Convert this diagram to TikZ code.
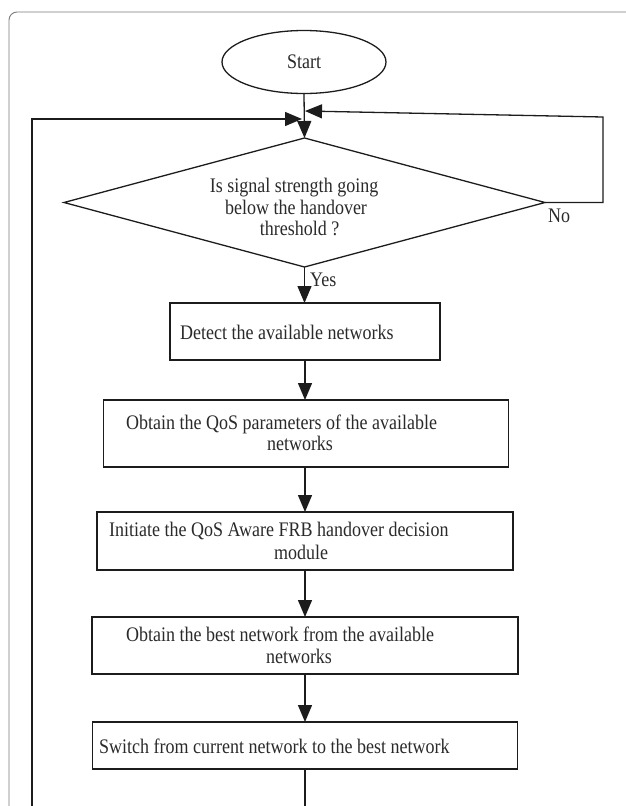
\documentclass[tikz,border=0pt]{standalone}
\usepackage{fontspec}
\setmainfont{Liberation Serif}
\usetikzlibrary{arrows.meta,shapes.geometric}
\definecolor{ink}{HTML}{1C1C1C}
\definecolor{txt}{HTML}{2A2A2A}
\definecolor{frame}{HTML}{7A7A7A}
% slightly condensed lettering: stretch glyphs vertically
\newcommand{\tallt}[1]{\scalebox{1}[1.15]{#1}}
\begin{document}
\begin{tikzpicture}[x=1pt,y=-1pt,
  line/.style={draw=ink,line width=1.3pt},
  arr/.style={line,-{Triangle[length=17pt,width=14pt]}},
  stepbox/.style={draw=ink,line width=1.3pt,rectangle,inner sep=0pt,outer sep=0pt},
  lbl/.style={inner sep=0pt,text=txt,font=\fontsize{18}{21.5}\selectfont},
]
\clip (0,0) rectangle (626,806);
% outer frame
\draw[frame,line width=0.9pt,rounded corners=8pt] (9,12) rectangle (660,840);

% start and decision
\node[line,ellipse,minimum width=164pt,minimum height=63pt,inner sep=0pt,outer sep=0pt,
      text=txt,font=\fontsize{18}{21.5}\selectfont] (start) at (304,62) {\tallt{Start}};
\node[line,diamond,minimum width=481pt,minimum height=129pt,inner sep=0pt,outer sep=0pt] (dec) at (304.5,202.5) {};
\node[lbl,anchor=base] (q1) at (294,192) {\tallt{Is signal strength going}};
\node[lbl,anchor=base] (q2) at (296,214) {\tallt{below the handover}};
\node[lbl,anchor=base] (q3) at (299.5,235) {\tallt{threshold ?}};

% process boxes
\node[stepbox,minimum width=270pt,minimum height=57pt] (b1) at (305,331.5) {};
\node[stepbox,minimum width=405pt,minimum height=67pt] (b2) at (306,433.5) {};
\node[stepbox,minimum width=416pt,minimum height=58pt] (b3) at (305,541) {};
\node[stepbox,minimum width=426pt,minimum height=57pt] (b4) at (305,645.5) {};
\node[stepbox,minimum width=425pt,minimum height=47pt] (b5) at (305,745.5) {};

\node[lbl,anchor=base west] (t1) at (180,339) {\tallt{Detect the available networks}};
\node[lbl,anchor=base west] (t2a) at (126,429) {\tallt{Obtain the QoS parameters of the available}};
\node[lbl,anchor=base] (t2b) at (300,450) {\tallt{networks}};
\node[lbl,anchor=base west] (t3a) at (109,536) {\tallt{Initiate the QoS Aware FRB handover decision}};
\node[lbl,anchor=base] (t3b) at (301,559) {\tallt{module}};
\node[lbl,anchor=base west] (t4a) at (126,641) {\tallt{Obtain the best network from the available}};
\node[lbl,anchor=base] (t4b) at (299,663) {\tallt{networks}};
\node[lbl,anchor=base west] (t5) at (99,753) {\tallt{Switch from current network to the best network}};

% junction points above the decision
\coordinate (jl) at (302,119);
\coordinate (jr) at (305,111);
\coordinate (nocorner) at (603,117);
\coordinate (loopx) at (32,830);

% connectors
\draw[arr] (start.south) -- (dec.north);
\draw[arr] (dec.south) -- (dec.south |- b1.north);
\node[lbl,anchor=base west] (yes) at (310,286) {\tallt{Yes}};
\draw[arr] (b1.south) -- (b1.south |- b2.north);
\draw[arr] (b3.north |- b2.south) -- (b3.north);
\draw[arr] (b3.south) -- (b3.south |- b4.north);
\draw[arr] (b4.south) -- (b4.south |- b5.north);

% "No" branch back to the decision
\draw[arr] (dec.east) -- (nocorner |- dec.east) -- (nocorner) -- (jr);
\node[lbl,anchor=base] (no) at (559,222) {\tallt{No}};

% loop from the last step back to the top
\draw[arr] (b5.south) -- (b5.south |- loopx) -- (loopx) -- (loopx |- jl) -- (jl);
\end{tikzpicture}
\end{document}
